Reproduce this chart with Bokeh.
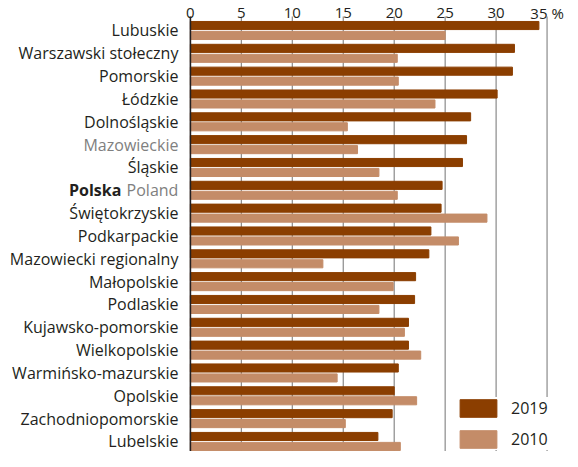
from bokeh.plotting import figure
from bokeh.models import Range1d, Legend, LegendItem
from bokeh.core.properties import value
from bokeh.embed import file_html
from bokeh.resources import INLINE

regions = ["Lubuskie", "Warszawski stołeczny", "Pomorskie", "Łódzkie", "Dolnośląskie",
           "Mazowieckie", "Śląskie", "Polska", "Świętokrzyskie", "Podkarpackie",
           "Mazowiecki regionalny", "Małopolskie", "Podlaskie", "Kujawsko-pomorskie",
           "Wielkopolskie", "Warmińsko-mazurskie", "Opolskie", "Zachodniopomorskie", "Lubelskie"]
poland_en = "Poland"
v2019 = [34.2, 31.8, 31.6, 30.1, 27.5, 27.1, 26.7, 24.7, 24.6, 23.6, 23.4, 22.1, 22.0,
         21.4, 21.4, 20.4, 20.0, 19.8, 18.4]
v2010 = [25.0, 20.3, 20.4, 24.0, 15.4, 16.4, 18.5, 20.3, 29.1, 26.3, 13.0, 19.9, 18.5,
         21.0, 22.6, 14.4, 22.2, 15.2, 20.6]
ticks = [0, 5, 10, 15, 20, 25, 30, 35]
tick_labels = ["0", "5", "10", "15", "20", "25", "30", "35 %"]
series = ["2019", "2010"]

C19 = "#8B3E00"
C10 = "#C48C68"
DARK = "#231f20"
GRAY = "#808080"
GRID = "#8a8a8a"
FONT = "Open Sans"

W, H = 570, 451
Y_TOP, Y_BOT = -1.314, 18.44
p = figure(width=W, height=H, output_backend="svg", toolbar_location=None,
           x_range=Range1d(-18.636, 37.30), y_range=Range1d(Y_BOT, Y_TOP),
           min_border_left=0, min_border_right=0, min_border_bottom=0, min_border_top=0)
p.xaxis.visible = False
p.yaxis.visible = False
p.grid.visible = False
p.outline_line_color = None

grid_top = -0.613
p.segment(x0=ticks[1:], y0=grid_top, x1=ticks[1:], y1=Y_BOT, line_color=GRID, line_width=1.2)

idx = list(range(len(regions)))
off = 0.218
bh = 0.355
r19 = p.hbar(y=[i - off for i in idx], left=0, right=v2019, height=bh, color=C19)
r10 = p.hbar(y=[i + off for i in idx], left=0, right=v2010, height=bh, color=C10)

p.segment(x0=[0], y0=grid_top, x1=[0], y1=Y_BOT, line_color=DARK, line_width=1.6)

# tick labels (top axis)
p.text(x=ticks, y=-0.758, text=tick_labels, text_align="center",
       text_baseline="alphabetic", text_font=value(FONT), text_font_size="15px",
       text_color=DARK)

# category labels
names, ys, cols = [], [], []
for i, n in enumerate(regions):
    if n == "Polska":
        continue
    names.append(n); ys.append(i)
    cols.append(GRAY if n == "Mazowieckie" else DARK)
p.text(x=0, y=ys, text=names, text_color=cols, text_align="right", text_baseline="middle",
       x_offset=-12, text_font=value(FONT), text_font_size="16px")
pi = regions.index("Polska")
p.text(x=[0], y=[pi], text=[poland_en], text_color=GRAY, text_align="right",
       text_baseline="middle", x_offset=-12, text_font=value(FONT), text_font_size="16px")
p.text(x=[0], y=[pi], text=["Polska"], text_color=DARK, text_align="right",
       text_baseline="middle", x_offset=-69, text_font=value(FONT), text_font_size="16px",
       text_font_style="bold")

legend = Legend(items=[LegendItem(label=series[0], renderers=[r19]),
                       LegendItem(label=series[1], renderers=[r10])],
                location=(455, 1), glyph_width=46, glyph_height=22, spacing=9,
                padding=5, margin=0, label_standoff=10, border_line_color=None,
                background_fill_color="white", background_fill_alpha=1.0,
                label_text_font=FONT, label_text_font_size="16px", label_text_color=DARK)
p.add_layout(legend)

open("out.html", "w").write(file_html(p, INLINE))
